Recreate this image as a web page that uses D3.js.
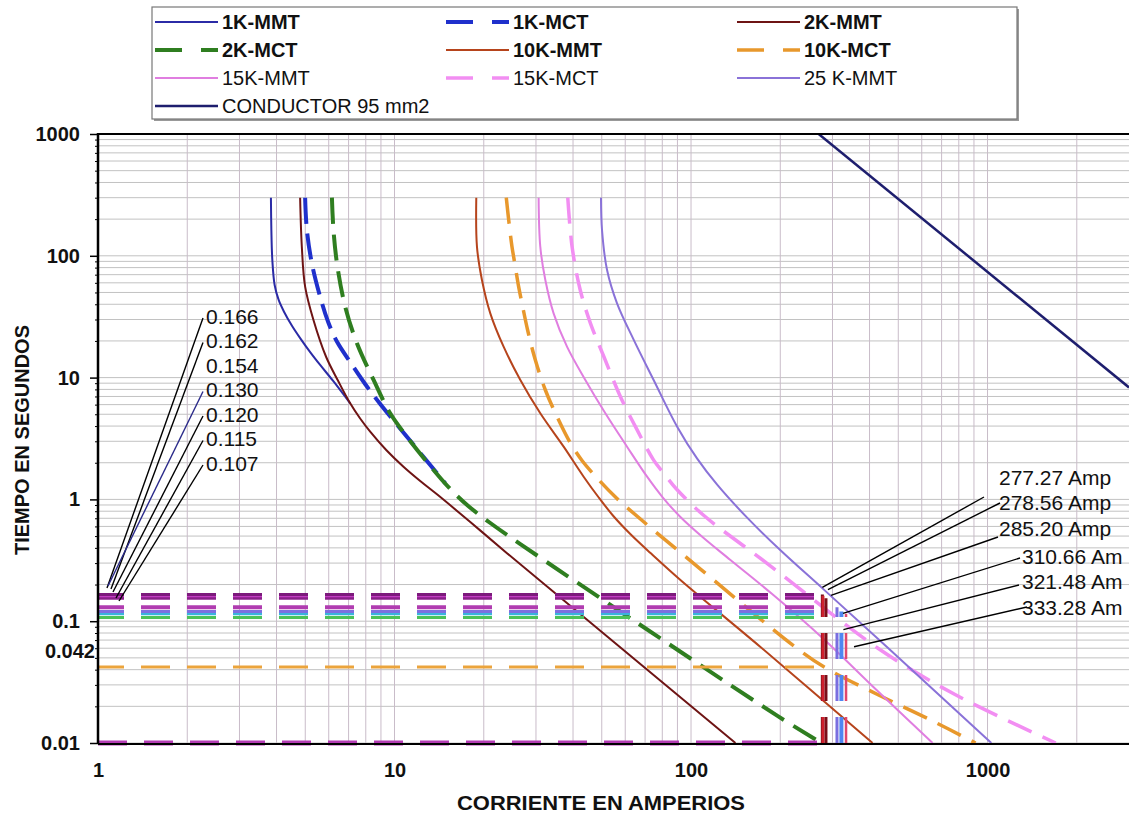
<!DOCTYPE html>
<html>
<head>
<meta charset="utf-8">
<script src="https://cdn.jsdelivr.net/npm/d3@7"></script>
<style>
  body { margin: 0; background: #fff; }
  svg { display: block; font-family: Arial, "Liberation Sans", sans-serif; }
</style>
</head>
<body>
<svg id="chart" width="1136" height="816"></svg>
<script>
// ---- Axis ticks ----
const currentTicks = [1, 10, 100, 1000];
const currentTickLabels = ["1", "10", "100", "1000"];
const timeTicks = [0.01, 0.1, 1, 10, 100, 1000];
const timeTickLabels = ["0.01", "0.1", "1", "10", "100", "1000"];

// ---- Fuse time-current curves: [current A, time s] ----
const mmt1K = [[3.83,300],[3.843,162.8],[3.872,92.4],[3.942,57.6],[4.067,43.4],[4.244,34.6],[4.515,26.5],[4.805,21.1],[5.194,16.2],[5.613,12.7],[6.21,9.38],[7.088,6.15]];
const mct1K = [[4.995,300],[5.063,162.8],[5.263,86.8],[5.613,46.1],[5.973,28.6],[6.407,19.6],[7.088,13.43],[7.96,8.86],[8.95,6.07],[11.01,3.272],[14.83,1.356]];
const mmt2K = [[4.805,300],[4.869,118.8],[4.995,55.8],[5.329,29.7],[5.882,14.76],[6.457,9.38],[7.088,6.15],[7.659,4.615],[8.279,3.6],[9.376,2.545],[10.72,1.855],[12.21,1.416],[13.94,1.095],[18.01,0.652],[23.95,0.362],[141.2,0.01]];
const mct2K = [[6.15,300],[6.225,162.8],[6.42,81.4],[6.82,38.2],[7.47,19.12],[8.5,9.56],[9.67,5.09],[11.01,3.272],[13.54,1.743],[15.42,1.217],[17.73,0.883],[21.04,0.64],[26.57,0.43],[67.5,0.0931],[195.7,0.0167],[275,0.01]];
const mmt10K = [[18.87,300],[18.97,118.8],[19.72,63.3],[21.04,33.7],[23.33,17.94],[26.57,9.56],[31.02,5.09],[37.19,2.709],[43.44,1.536],[48.7,1.046],[54.7,0.731],[62.4,0.52],[73.0,0.363],[92.1,0.218],[171.5,0.0614],[409.5,0.01]];
const mct10K = [[23.82,300],[24.38,179],[24.9,118.8],[25.5,84.0],[26.22,55.8],[26.98,39.5],[28.11,24.6],[29.85,13.95],[32.26,7.91],[35.33,4.775],[39.17,2.905],[43.0,2.067],[47.2,1.586],[55.6,1.046],[67.5,0.69],[107.6,0.268],[226.8,0.0603],[288.6,0.0405],[429,0.0248],[643,0.01545],[911,0.01]];
const mmt15K = [[30.62,300],[31.02,118.8],[32.26,63.3],[34.4,33.7],[38.17,17.94],[44.01,9.56],[51.41,5.09],[60.84,2.709],[71.1,1.536],[80.1,1.046],[92.1,0.717],[109.3,0.491],[135.8,0.318],[187.8,0.167],[277.6,0.0728],[422.5,0.0272],[652.8,0.01]];
const mct15K = [[38.4,300],[39.7,119],[42.3,52.4],[45.8,27.9],[50.8,14.9],[57.8,6.97],[65.8,3.72],[74.8,2.1],[80.9,1.638],[89.3,1.217],[110,0.744],[180,0.3],[427,0.06],[777,0.025],[1698,0.01]];
const mmt25K = [[49.7,300],[50.1,162.8],[52.1,76.4],[56.3,40.7],[64.1,20.4],[74.8,9.56],[89.8,3.954],[104.9,2.159],[122.5,1.32],[154.6,0.708],[200.3,0.382],[277.6,0.186],[460,0.0607],[1030,0.01]];
const conductor95 = [[269.5,1000],[3000,8.3]];

const seriesNames = ["1K-MMT","1K-MCT","2K-MMT","2K-MCT","10K-MMT","10K-MCT","15K-MMT","15K-MCT","25 K-MMT","CONDUCTOR 95 mm2"];
const seriesData = [mmt1K, mct1K, mmt2K, mct2K, mmt10K, mct10K, mmt15K, mct15K, mmt25K, conductor95];

// ---- Coordination markers ----
const markerTimes = [0.166, 0.162, 0.154, 0.130, 0.120, 0.115, 0.107];
const markerTimeLabels = ["0.166", "0.162", "0.154", "0.130", "0.120", "0.115", "0.107"];
const markerCurrents = [277.27, 278.56, 285.20, 310.66, 321.48, 333.28];
const markerCurrentTops = [0.166, 0.162, 0.154, 0.130, 0.120, 0.115];
const markerCurrentLabels = ["277.27 Amp", "278.56 Amp", "285.20 Amp", "310.66 Am", "321.48 Am", "333.28 Am"];
const instantTime = 0.042;
const instantLabel = "0.042";
const floorTime = 0.01;

// ---- Styles ----
const seriesStyle = [
  { color: "#2b2ba6", width: 2,   dash: null },
  { color: "#1f30cc", width: 4,   dash: "26,10" },
  { color: "#6e1414", width: 2,   dash: null },
  { color: "#2f7e20", width: 4,   dash: "26,11" },
  { color: "#b6441c", width: 2,   dash: null },
  { color: "#e8982c", width: 3.5, dash: "26,12" },
  { color: "#e07ee0", width: 2,   dash: null },
  { color: "#f28ef2", width: 3.5, dash: "26,12" },
  { color: "#8a72d8", width: 2,   dash: null },
  { color: "#1e1e6e", width: 2.5, dash: null }
];
const timeLineColors = ["#7c1a7c", "#c23ec2", "#8a1f8a", "#b03cb0", "#7d6fe0", "#39b4dc", "#4cc25a"];
const timeLineWidths = [3, 3, 3, 4, 3, 3, 3];
const currentLineColors = ["#6e0c16", "#d0202e", "#7a0e18", "#7a6ee0", "#4f86f2", "#e0486e"];
const currentLineWidths = [3, 3, 3, 3, 4, 2.5];

const svg = d3.select("#chart");
const plotL = 98, plotR = 1129, plotT = 134, plotB = 743;

const x = d3.scaleLog().domain([1, 3000]).range([plotL, plotR]);
const y = d3.scaleLog().domain([0.01, 1000]).range([plotB, plotT]);

svg.append("rect").attr("width", 1136).attr("height", 816).attr("fill", "#fff");

svg.append("defs").append("clipPath").attr("id", "plot")
  .append("rect").attr("x", plotL - 3).attr("y", plotT).attr("width", plotR - plotL + 3).attr("height", plotB - plotT + 4);

// ---- Gridlines ----
const grid = svg.append("g");
grid.selectAll("line.h").data(y.ticks()).join("line")
  .attr("class", "h")
  .attr("x1", plotL).attr("x2", plotR)
  .attr("y1", d => y(d)).attr("y2", d => y(d))
  .attr("stroke", "#c2c2c2").attr("stroke-width", 1);
grid.selectAll("line.v").data(x.ticks().filter(d => d > 1 && d < 3000)).join("line")
  .attr("class", "v")
  .attr("y1", plotT).attr("y2", plotB)
  .attr("x1", d => x(d)).attr("x2", d => x(d))
  .attr("stroke", "#c9bcc9").attr("stroke-width", 1);

const plot = svg.append("g").attr("clip-path", "url(#plot)");

// ---- Curves ----
const line = d3.line().x(d => x(d[0])).y(d => y(d[1])).curve(d3.curveCatmullRom.alpha(0.5));
seriesData.forEach((data, i) => {
  const s = seriesStyle[i];
  plot.append("path").datum(data)
    .attr("d", line)
    .attr("fill", "none")
    .attr("stroke", s.color)
    .attr("stroke-width", s.width)
    .attr("stroke-dasharray", s.dash)
    .attr("stroke-linejoin", "round");
});

// ---- Horizontal time markers ----
const markerEnd = markerCurrents[0];
plot.append("line")
  .attr("x1", x(1)).attr("x2", x(markerEnd))
  .attr("y1", y(instantTime)).attr("y2", y(instantTime))
  .attr("stroke", "#eba43c").attr("stroke-width", 3)
  .attr("stroke-dasharray", "29,17").attr("stroke-dashoffset", 3);
plot.append("line")
  .attr("x1", x(1)).attr("x2", x(markerEnd))
  .attr("y1", y(floorTime)).attr("y2", y(floorTime))
  .attr("stroke", "#b43cb4").attr("stroke-width", 5)
  .attr("stroke-dasharray", "29,17").attr("stroke-dashoffset", 0);

markerTimes.slice().reverse().forEach((t, k) => {
  const i = markerTimes.length - 1 - k;
  plot.append("line")
    .attr("x1", x(1)).attr("x2", x(markerEnd))
    .attr("y1", y(t)).attr("y2", y(t))
    .attr("stroke", timeLineColors[i]).attr("stroke-width", timeLineWidths[i])
    .attr("stroke-dasharray", "29,17").attr("stroke-dashoffset", 3);
});

// ---- Vertical current markers (drawn upward from 0.01 s) ----
markerCurrents.forEach((c, i) => {
  plot.append("line")
    .attr("x1", x(c)).attr("x2", x(c))
    .attr("y1", y(floorTime)).attr("y2", y(markerCurrentTops[i]))
    .attr("stroke", currentLineColors[i]).attr("stroke-width", currentLineWidths[i])
    .attr("stroke-dasharray", "26,16");
});

// ---- Axes ----
const yAxis = d3.axisLeft(y).tickValues(timeTicks)
  .tickFormat((d, i) => timeTickLabels[i]).tickSize(8).tickPadding(10);
const yg = svg.append("g").attr("transform", `translate(${plotL},0)`).call(yAxis);
yg.select(".domain").remove();
yg.selectAll(".tick line").attr("stroke", "#000").attr("stroke-width", 1.5);
yg.selectAll(".tick text").attr("font-size", 20).attr("font-weight", "bold").attr("fill", "#111")
  .attr("font-family", "Arial, 'Liberation Sans', sans-serif");

const yMinor = d3.axisLeft(y).tickValues(y.ticks().filter(d => !timeTicks.includes(d)))
  .tickFormat("").tickSize(3);
const ym = svg.append("g").attr("transform", `translate(${plotL},0)`).call(yMinor);
ym.select(".domain").remove();
ym.selectAll(".tick line").attr("stroke", "#000");

const xAxis = d3.axisBottom(x).tickValues(currentTicks)
  .tickFormat((d, i) => currentTickLabels[i]).tickSize(0).tickPadding(20);
const xg = svg.append("g").attr("transform", `translate(0,${plotB})`).call(xAxis);
xg.select(".domain").remove();
xg.selectAll(".tick text").attr("font-size", 20).attr("font-weight", "bold").attr("fill", "#111")
  .attr("font-family", "Arial, 'Liberation Sans', sans-serif");

svg.append("line").attr("x1", plotL).attr("x2", plotL).attr("y1", plotT - 1).attr("y2", plotB + 1)
  .attr("stroke", "#000").attr("stroke-width", 2.5);
svg.append("line").attr("x1", plotL).attr("x2", plotR).attr("y1", plotB + 1).attr("y2", plotB + 1)
  .attr("stroke", "#000").attr("stroke-width", 2);
svg.append("line").attr("x1", plotL).attr("x2", plotR).attr("y1", plotT).attr("y2", plotT)
  .attr("stroke", "#000").attr("stroke-width", 2);

svg.append("text").attr("x", 95).attr("y", y(instantTime) - 16)
  .attr("text-anchor", "end").attr("dominant-baseline", "central")
  .attr("font-size", 20).attr("font-weight", "bold").attr("fill", "#111").text(instantLabel);

// Axis titles
svg.append("text").attr("x", 601).attr("y", 803)
  .attr("text-anchor", "middle").attr("dominant-baseline", "central")
  .attr("font-size", 20).attr("font-weight", "bold").attr("fill", "#111")
  .attr("textLength", 288).attr("lengthAdjust", "spacingAndGlyphs")
  .text("CORRIENTE EN AMPERIOS");
svg.append("text").attr("transform", "translate(22,440) rotate(-90)")
  .attr("text-anchor", "middle").attr("dominant-baseline", "central")
  .attr("font-size", 20).attr("font-weight", "bold").attr("fill", "#111")
  .text("TIEMPO EN SEGUNDOS");

// ---- Leader labels for times ----
const ann = svg.append("g");
const leftLeaderEnds = [[107, 588], [111, 589], null, [108, 586], [113, 592], [116, 598], [119, 601]];
markerTimeLabels.forEach((lab, i) => {
  const ly = 316 + i * 24.5;
  ann.append("text").attr("x", 206).attr("y", ly)
    .attr("dominant-baseline", "central").attr("font-size", 21).attr("fill", "#111").text(lab);
  const e = leftLeaderEnds[i];
  if (e) {
    ann.append("line").attr("x1", 203).attr("y1", ly + 2).attr("x2", e[0]).attr("y2", e[1])
      .attr("stroke", i === 3 ? "#2a2a8a" : "#000").attr("stroke-width", 1.4);
  }
});

// ---- Leader labels for currents ----
const rightLabelPos = [[999, 477], [999, 502], [999, 528], [1022, 556], [1022, 581], [1022, 607]];
const rightLeaderStart = [[984, 497], [1000, 503], [998, 537], [1020, 558], [1019, 585], [1027, 607]];
const rightLeaderOffset = [[0, -7], [5, -6], [5, -3], [6, 6], [2, 18], [8, 33]];
markerCurrentLabels.forEach((lab, i) => {
  ann.append("text").attr("x", rightLabelPos[i][0]).attr("y", rightLabelPos[i][1])
    .attr("dominant-baseline", "central").attr("font-size", 21).attr("fill", "#111").text(lab);
  ann.append("line")
    .attr("x1", rightLeaderStart[i][0]).attr("y1", rightLeaderStart[i][1])
    .attr("x2", x(markerCurrents[i]) + rightLeaderOffset[i][0])
    .attr("y2", y(markerCurrentTops[i]) + rightLeaderOffset[i][1])
    .attr("stroke", "#000").attr("stroke-width", 1.4);
});

// ---- Legend ----
const lg = svg.append("g");
lg.append("rect").attr("x", 154).attr("y", 9).attr("width", 865).attr("height", 112).attr("fill", "#999");
lg.append("rect").attr("x", 152).attr("y", 7).attr("width", 865).attr("height", 112)
  .attr("fill", "#fff").attr("stroke", "#777").attr("stroke-width", 1.2);
const colX = [155, 446, 737];
const rowY = [22, 50, 78, 106];
seriesNames.forEach((name, i) => {
  const cx = colX[i % 3], cy = rowY[Math.floor(i / 3)];
  const s = seriesStyle[i];
  lg.append("line").attr("x1", cx).attr("x2", cx + 63).attr("y1", cy).attr("y2", cy)
    .attr("stroke", s.color).attr("stroke-width", s.width)
    .attr("stroke-dasharray", s.dash ? "27,19" : null);
  lg.append("text").attr("x", cx + 67).attr("y", cy)
    .attr("dominant-baseline", "central").attr("font-size", 20)
    .attr("font-weight", i < 6 ? "bold" : "normal").attr("fill", "#111").text(name);
});
</script>
</body>
</html>
